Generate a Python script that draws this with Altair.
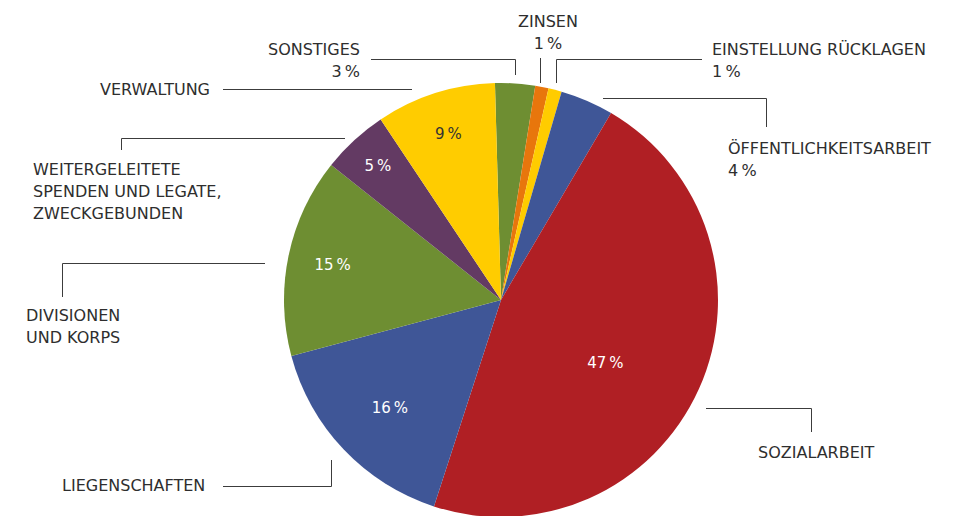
import math
import altair as alt
import pandas as pd

# ---- data ----
categories = [
    "Sonstiges", "Zinsen", "Einstellung Rücklagen", "Öffentlichkeitsarbeit",
    "Sozialarbeit", "Liegenschaften", "Divisionen und Korps",
    "Weitergeleitete Spenden und Legate, zweckgebunden", "Verwaltung",
]
values = [3, 1, 1, 4, 47, 16, 15, 5, 9]
slice_colors = ["#6E8E32", "#E8760C", "#FFCC00", "#3F5697", "#B01F24",
                "#3F5697", "#6E8E32", "#633A63", "#FFCC00"]
inside_labels = ["", "", "", "", "47\u2009%", "16\u2009%", "15\u2009%", "5\u2009%", "9\u2009%"]
inside_label_colors = ["#ffffff", "#ffffff", "#ffffff", "#ffffff", "#ffffff",
                       "#ffffff", "#ffffff", "#ffffff", "#333333"]
# label placement inside slices (layout): radius in px, angular shift in value units
inside_label_radius = [0, 0, 0, 0, 122, 155, 172, 182, 174]
inside_label_shift = [0, 0, 0, 0, 1.95, -0.2, 0, 0, 0]

outer_labels = [
    "SONSTIGES\n3\u2009%",
    "ZINSEN\n1\u2009%",
    "EINSTELLUNG RÜCKLAGEN\n1\u2009%",
    "ÖFFENTLICHKEITSARBEIT\n4\u2009%",
    "SOZIALARBEIT",
    "LIEGENSCHAFTEN",
    "DIVISIONEN\nUND KORPS",
    "WEITERGELEITETE\nSPENDEN UND LEGATE,\nZWECKGEBUNDEN",
    "VERWALTUNG",
]

# ---- layout (pixel positions of callouts) ----
CX, CY, R = 501, 300, 217
OFFSET = math.radians(-1.6)
TOTAL = sum(values)
label_x = [360, 548, 712, 728, 758, 62, 26, 33, 210]
label_y = [55, 27, 55, 154, 458, 491, 321, 175, 95]
label_align = ["right", "center", "left", "left", "left", "left", "left", "left", "right"]

segments = [
    (371, 59.5, 515.5, 59.5), (515.5, 59.5, 515.5, 75),
    (540.5, 58, 540.5, 83),
    (556.5, 83, 556.5, 59.5), (556.5, 59.5, 702, 59.5),
    (603, 98.5, 766.5, 98.5), (766.5, 98.5, 766.5, 127),
    (706, 408.5, 811.5, 408.5), (811.5, 408.5, 811.5, 432),
    (223, 486.5, 331.5, 486.5), (331.5, 486.5, 331.5, 460),
    (62.5, 297, 62.5, 263.5), (62.5, 263.5, 265, 263.5),
    (121.5, 150, 121.5, 138.5), (121.5, 138.5, 345, 138.5),
    (223, 89.5, 412, 89.5),
]

FONT = "DejaVu Sans"

pie_df = pd.DataFrame({
    "idx": list(range(len(categories))),
    "cat": categories,
    "value": values,
    "lab": inside_labels,
    "tc": inside_label_colors,
    "lr": inside_label_radius,
    "ls": inside_label_shift,
})

theta_scale = alt.Scale(domain=[0, TOTAL], range=[OFFSET, OFFSET + 2 * math.pi])

arcs = alt.Chart(pie_df).mark_arc(outerRadius=R).encode(
    theta=alt.Theta("value:Q", stack=True, scale=theta_scale),
    order=alt.Order("idx:Q"),
    color=alt.Color("cat:N", scale=alt.Scale(domain=categories, range=slice_colors), legend=None),
    x=alt.value(CX),
    y=alt.value(CY),
)

inside = alt.Chart(pie_df).transform_window(
    cum="sum(value)", sort=[alt.SortField("idx")], frame=[None, 0]
).transform_calculate(
    mid="datum.cum - datum.value / 2 + datum.ls"
).mark_text(font=FONT, fontSize=15, align="center", baseline="middle").encode(
    theta=alt.Theta("mid:Q", stack=None, scale=theta_scale),
    radius=alt.Radius("lr:Q", scale=None),
    text="lab:N",
    color=alt.Color("tc:N", scale=None, legend=None),
    x=alt.value(CX),
    y=alt.value(CY),
)

lab_df = pd.DataFrame({"t": outer_labels, "x": label_x, "y": label_y, "al": label_align})
label_layers = []
for al in ["left", "center", "right"]:
    sub = lab_df[lab_df["al"] == al]
    label_layers.append(
        alt.Chart(sub).mark_text(font=FONT, fontSize=16, align=al,
                                 baseline="alphabetic", lineBreak="\n", lineHeight=22,
                                 color="#2e2e2e").encode(
            x=alt.X("x:Q", scale=None, axis=None),
            y=alt.Y("y:Q", scale=None, axis=None),
            text="t:N",
        )
    )

seg_df = pd.DataFrame(segments, columns=["x", "y", "x2", "y2"])
rules = alt.Chart(seg_df).mark_rule(color="#3c3c3c", strokeWidth=1).encode(
    x=alt.X("x:Q", scale=None, axis=None),
    y=alt.Y("y:Q", scale=None, axis=None),
    x2="x2:Q",
    y2="y2:Q",
)

chart = alt.layer(arcs, inside, rules, *label_layers).resolve_scale(
    color="independent"
).properties(
    width=955, height=516, autosize="none", padding=0, background="white"
).configure_view(stroke=None)

chart.save("out.html", embed_options={"renderer": "svg", "actions": False})
